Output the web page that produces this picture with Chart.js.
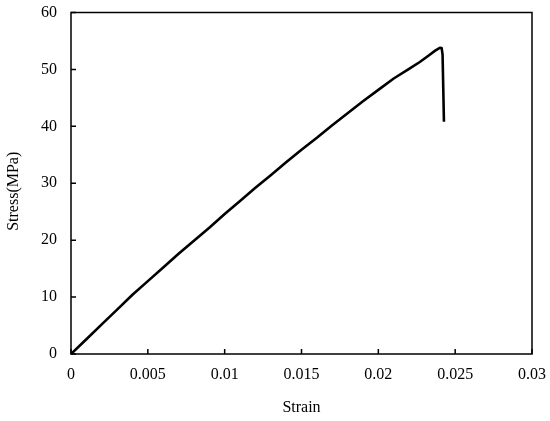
<!DOCTYPE html>
<html>
<head>
<meta charset="utf-8">
<script src="https://cdn.jsdelivr.net/npm/chart.js@4"></script>
<style>
html,body{margin:0;padding:0;background:#fff;}
#wrap{width:550px;height:421px;position:relative;}
</style>
</head>
<body>
<div id="wrap"><canvas id="c" width="550" height="421"></canvas></div>
<script>
const strain = [0, 0.001, 0.002, 0.003, 0.004, 0.005, 0.006, 0.007, 0.008, 0.009, 0.010, 0.011, 0.012, 0.013, 0.014, 0.015, 0.016, 0.017, 0.018, 0.019, 0.020, 0.021, 0.022, 0.0227, 0.0233, 0.0237, 0.0240, 0.02412, 0.02418, 0.02427];
const stress = [0, 2.6, 5.2, 7.8, 10.4, 12.8, 15.2, 17.6, 19.9, 22.2, 24.6, 26.9, 29.2, 31.4, 33.7, 35.9, 38.0, 40.2, 42.3, 44.4, 46.4, 48.4, 50.1, 51.3, 52.5, 53.3, 53.8, 53.75, 52.6, 40.8];
const xTicks = [0, 0.005, 0.01, 0.015, 0.02, 0.025, 0.03];
const yTicks = [0, 10, 20, 30, 40, 50, 60];
const xLabel = 'Strain';
const yLabel = 'Stress(MPa)';

const pts = strain.map((x, i) => ({x: x, y: stress[i]}));
const FONT = 'Liberation Serif, Times New Roman, serif';

const frame = {
  id: 'frame',
  afterDatasetsDraw(chart) {
    const ctx = chart.ctx, a = chart.chartArea;
    const xs = chart.scales.x, ys = chart.scales.y;
    ctx.save();
    ctx.strokeStyle = '#000';
    ctx.lineWidth = 1.5;
    ctx.strokeRect(a.left, a.top, a.right - a.left, a.bottom - a.top);
    ctx.beginPath();
    xTicks.forEach(v => {
      const px = xs.getPixelForValue(v);
      ctx.moveTo(px, a.bottom); ctx.lineTo(px, a.bottom - 5);
    });
    yTicks.forEach(v => {
      const py = ys.getPixelForValue(v);
      ctx.moveTo(a.left, py); ctx.lineTo(a.left + 5, py);
    });
    ctx.stroke();
    // y axis title
    ctx.translate(14, (a.top + a.bottom) / 2 + 8);
    ctx.rotate(-Math.PI / 2);
    ctx.fillStyle = '#000';
    ctx.font = '16px ' + FONT;
    ctx.textAlign = 'center';
    ctx.textBaseline = 'middle';
    ctx.fillText(yLabel, 0, 0);
    ctx.restore();
  }
};

new Chart(document.getElementById('c'), {
  type: 'scatter',
  data: {
    datasets: [{
      data: pts,
      showLine: true,
      borderColor: '#000',
      borderWidth: 2.6,
      pointRadius: 0,
      tension: 0,
      borderJoinStyle: 'round',
      fill: false
    }]
  },
  options: {
    responsive: false,
    animation: false,
    layout: {padding: {left: 0, right: 18, top: 12.5, bottom: 0}},
    plugins: {legend: {display: false}, tooltip: {enabled: false}},
    scales: {
      x: {
        type: 'linear', min: 0, max: 0.03,
        afterBuildTicks: s => { s.ticks = xTicks.map(v => ({value: v})); },
        afterFit: s => { s.height = 67; s.paddingLeft = 0; s.paddingRight = 0; },
        grid: {display: false, drawTicks: false},
        border: {display: false},
        ticks: {
          color: '#000', padding: 11,
          font: {family: FONT, size: 16},
          callback: v => String(v)
        },
        title: {display: true, text: xLabel, color: '#000', font: {family: FONT, size: 16}, padding: {top: 18}}
      },
      y: {
        type: 'linear', min: 0, max: 60,
        afterBuildTicks: s => { s.ticks = yTicks.map(v => ({value: v})); },
        afterFit: s => { s.width = 71; s.paddingTop = 0; s.paddingBottom = 0; },
        grid: {display: false, drawTicks: false},
        border: {display: false},
        ticks: {
          color: '#000', padding: 14,
          font: {family: FONT, size: 16},
          callback: v => String(v)
        },
        title: {display: false}
      }
    }
  },
  plugins: [frame]
});
</script>
</body>
</html>
